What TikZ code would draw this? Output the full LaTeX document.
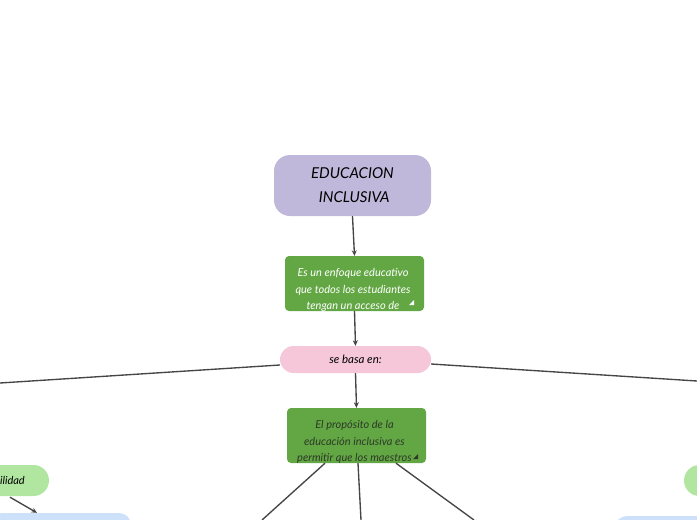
\documentclass[tikz,border=0pt]{standalone}
\usepackage{fontspec}
\setmainfont{Lato}
\usetikzlibrary{arrows.meta,calc}
\definecolor{lav}{HTML}{BFB8DA}
\definecolor{grn}{HTML}{62A744}
\definecolor{pnk}{HTML}{F5C7D8}
\definecolor{lgrn}{HTML}{B1E6A1}
\definecolor{lblu}{HTML}{CDE1FB}
\definecolor{ln}{HTML}{454545}
\definecolor{dtxt}{HTML}{2E3A28}
\tikzset{
  conn/.style={draw=ln,line width=1.35pt},
  arr/.style={conn,-{Stealth[length=5.5pt,width=5pt]}},
  box/.style={draw=none,inner sep=0pt,rectangle},
  txt/.style={inner sep=0pt,align=center,font=\itshape\fontsize{11}{16.8}\selectfont},
}
\begin{document}
\begin{tikzpicture}[x=1pt,y=-1pt]
\useasboundingbox (0,0) rectangle (697,520);
% main nodes
\node[box,fill=lav,rounded corners=16pt,minimum width=157pt,minimum height=61pt,align=center,
  font=\itshape\fontsize{15}{24}\selectfont] (edu) at (352.5,185.5) {EDUCACION\\ \ INCLUSIVA};
\node[box,fill=grn,rounded corners=4pt,minimum width=139pt,minimum height=55pt] (g1) at (354.5,283.5) {};
\node[box,fill=pnk,rounded corners=13.5pt,minimum width=151pt,minimum height=27pt,
  font=\itshape\fontsize{11.5}{12}\selectfont] (pink) at (355.5,359.5) {se basa en:};
\node[box,fill=grn,rounded corners=4pt,minimum width=139pt,minimum height=55pt] (g2) at (356.5,435.5) {};
% clipped texts
\begin{scope}
  \clip[rounded corners=4pt] (g1.south west) rectangle (g1.north east);
  \node[txt,text=white,anchor=north] (t1) at (353,268) {Es un enfoque educativo\\que todos los estudiantes\\tengan un acceso de};
\end{scope}
\begin{scope}
  \clip[rounded corners=4pt] (g2.south west) rectangle (g2.north east);
  \node[txt,text=dtxt,anchor=north] (t2) at (354.5,420) {El propósito de la\\educación inclusiva es\\permitir que los maestros};
\end{scope}
\fill[white] (409,305) -- (414,305) -- (414,300) -- cycle;
\fill[dtxt] (413,459) -- (418,459) -- (418,454) -- cycle;
% side nodes
\node[box,fill=lgrn,rounded corners=15.5pt,minimum width=89pt,minimum height=31pt] (lpill) at (4.5,480.5) {};
\node[anchor=east,inner sep=0pt,font=\itshape\fontsize{11}{12}\selectfont] (lpt) at (25,480.5) {ilidad};
\node[box,fill=lblu,rounded corners=12pt,minimum width=141pt,minimum height=32pt] (lblue) at (60.5,529) {};
\node[box,fill=lgrn,rounded corners=15.5pt,minimum width=96pt,minimum height=31pt] (rpill) at (732,480.5) {};
\node[box,fill=lblu,rounded corners=12pt,minimum width=145pt,minimum height=34pt] (rblue) at (687.5,533) {};
% free ends
\coordinate (eL) at (0,383);
\coordinate (eR) at (697,381);
\coordinate (b1) at (262,520);
\coordinate (b2) at (361,520);
\coordinate (b3) at (474,520);
% connectors
\draw[arr] (edu.south) -- (g1.north);
\draw[arr] (g1.south) -- (pink.north);
\draw[arr] (pink.south) -- (g2.north);
\draw[conn] ($(pink.west)+(0,5.5)$) -- (eL);
\draw[conn] ($(pink.east)+(0,4.5)$) -- (eR);
\draw[conn] ($(g2.south)+(-31.5,0)$) -- (b1);
\draw[conn] ($(g2.south)+(1.5,0)$) -- (b2);
\draw[conn] ($(g2.south)+(39.5,0)$) -- (b3);
\draw[arr] ($(lpill.south)+(5.5,1)$) -- (lblue.north -| 37,0);
\end{tikzpicture}
\end{document}
